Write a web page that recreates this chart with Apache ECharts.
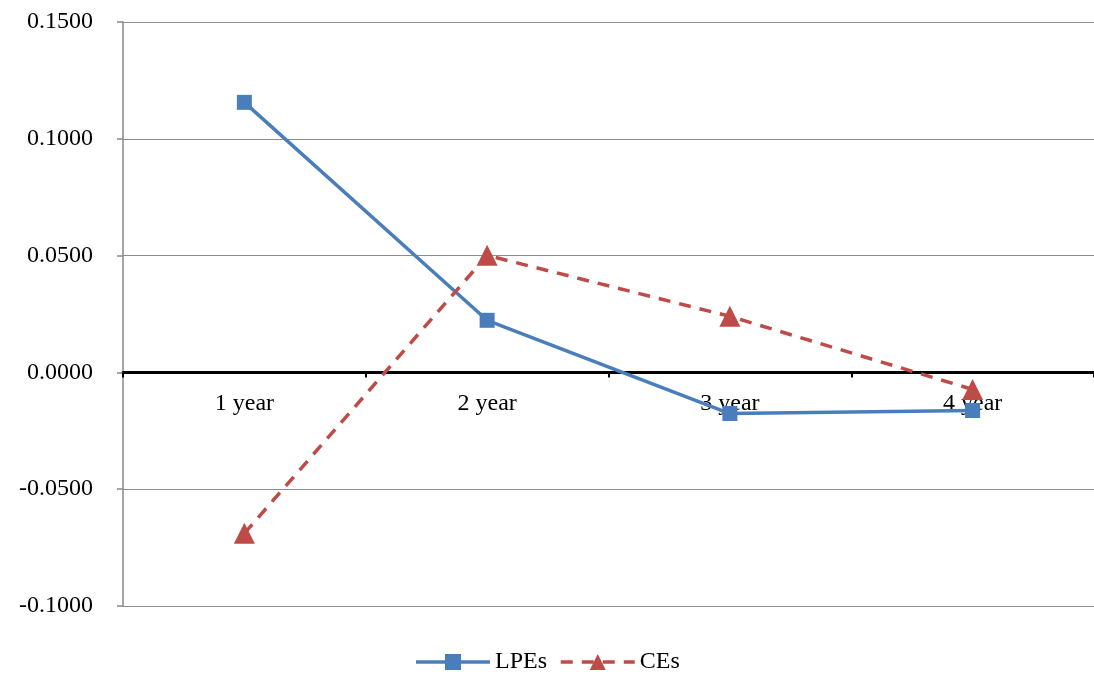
<!DOCTYPE html>
<html><head><meta charset="utf-8">
<script src="https://cdn.jsdelivr.net/npm/echarts@6/dist/echarts.min.js"></script>
<style>html,body{margin:0;padding:0;background:#fff}#c{width:1094px;height:675px}</style>
</head><body><div id="c"></div>
<script>
const categories = ['1 year', '2 year', '3 year', '4 year'];
const lpes = [0.1156, 0.0223, -0.0176, -0.0163];
const ces = [-0.0689, 0.0501, 0.0240, -0.0073];
const yTicks = { min: -0.1, max: 0.15, interval: 0.05 };

const font = 'Liberation Serif, Times New Roman, serif';
const gridTop = 22, gridBottom = 69, H = 675;
const plotH = H - gridTop - gridBottom;
const zeroOffset = -plotH * (0 - yTicks.min) / (yTicks.max - yTicks.min);

const chart = echarts.init(document.getElementById('c'));
chart.setOption({
  animation: false,
  grid: { left: 123, right: 0, top: gridTop, bottom: gridBottom, containLabel: false },
  legend: {
    top: 645, left: 'center', itemWidth: 74, itemHeight: 20, itemGap: 12,
    textStyle: { fontFamily: font, fontSize: 24, color: '#000' },
    lineStyle: { width: 3.5 },
    data: ['LPEs', 'CEs']
  },
  xAxis: {
    type: 'category', data: categories, position: 'bottom', offset: zeroOffset,
    axisLine: { onZero: false, lineStyle: { color: '#000', width: 3 } },
    axisTick: { show: true, alignWithLabel: false, length: 5, lineStyle: { color: '#000', width: 2 } },
    axisLabel: { fontFamily: font, fontSize: 24, color: '#000', margin: 19 },
    splitLine: { show: false }
  },
  yAxis: {
    type: 'value', min: yTicks.min, max: yTicks.max, interval: yTicks.interval,
    axisLine: { show: true, lineStyle: { color: '#888', width: 1.5 } },
    axisTick: { show: true, length: 6, lineStyle: { color: '#888', width: 1.5 } },
    axisLabel: { fontFamily: font, fontSize: 24, color: '#000', margin: 30,
      formatter: v => v.toFixed(4) },
    splitLine: { show: true, lineStyle: { color: '#8c8c8c', width: 1.2 } }
  },
  series: [
    { name: 'LPEs', type: 'line', data: lpes, symbol: 'rect', symbolSize: 15,
      lineStyle: { color: '#4a7ebb', width: 3.5 }, itemStyle: { color: '#4a7ebb' } },
    { name: 'CEs', type: 'line', data: ces, symbol: 'triangle', symbolSize: 21,
      lineStyle: { color: '#be4b48', width: 3.5, type: [12, 9] }, itemStyle: { color: '#be4b48' } }
  ]
});
</script></body></html>
